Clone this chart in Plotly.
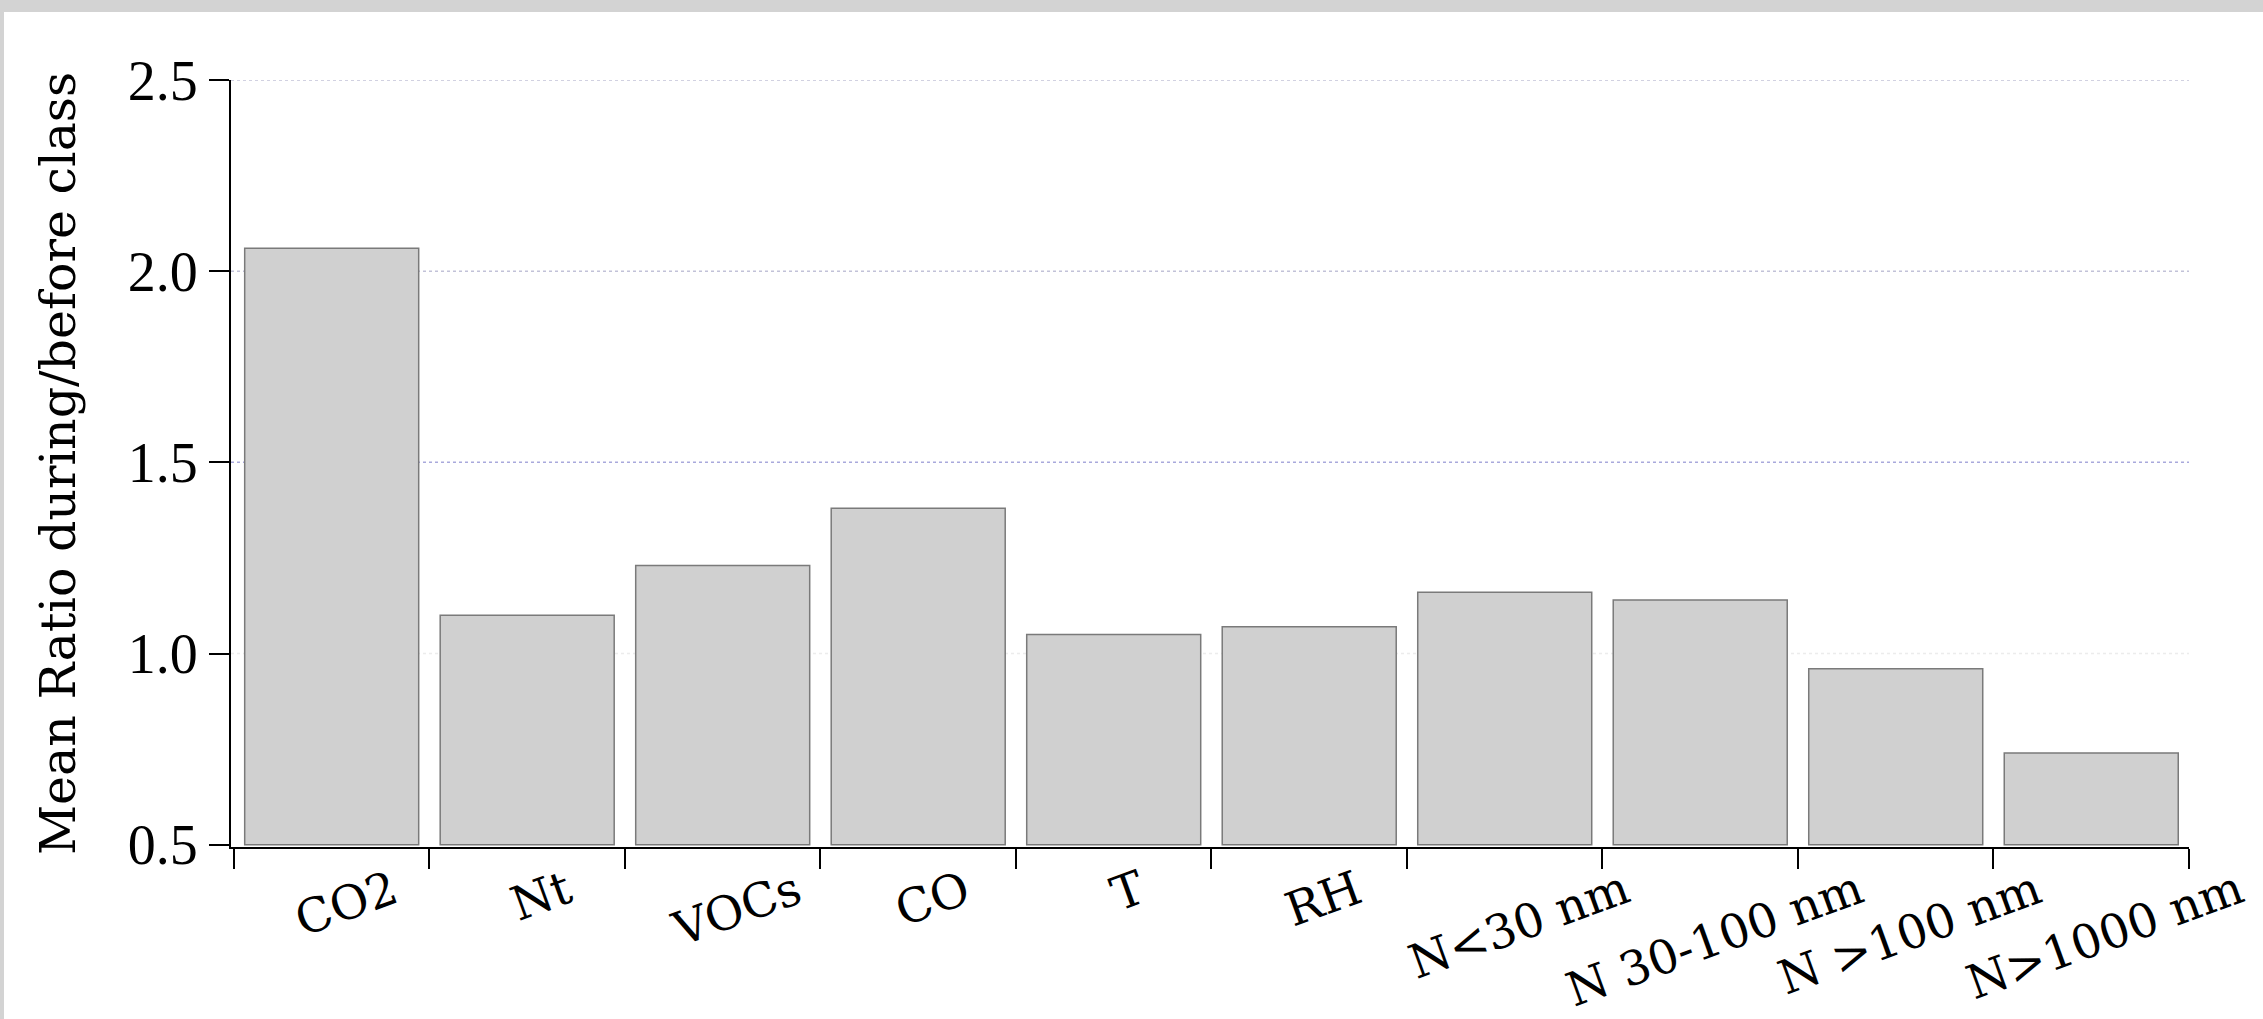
import plotly.graph_objects as go

# ---- data ----
categories = ["CO2", "Nt", "VOCs", "CO", "T", "RH", "N<30 nm", "N 30-100 nm", "N >100 nm", "N>1000 nm"]
mean_ratio = [2.06, 1.10, 1.23, 1.38, 1.05, 1.07, 1.16, 1.14, 0.96, 0.74]
y_tick_vals = [0.5, 1.0, 1.5, 2.0, 2.5]
grid_vals = [1.0, 1.5, 2.0, 2.5]
y_title = "Mean Ratio during/before class"

# ---- styles / layout geometry ----
W, H = 2263, 1019
L, R, T, B = 231, 74, 80, 172
BASE = 0.5
grid_colors = {1.0: "#ececec", 1.5: "#a9a9dc", 2.0: "#c2c2d8", 2.5: "#c2c2d8"}
SERIF = "Liberation Serif, Times New Roman, serif"
SERIF2 = "DejaVu Serif, serif"

plot_h = H - T - B
plot_w = W - L - R

def py_to_paper(py):
    return (H - B - py) / plot_h

def px_to_paper(px):
    return (px - L) / plot_w

fig = go.Figure()
fig.add_trace(go.Bar(
    x=categories,
    y=[v - BASE for v in mean_ratio],
    base=BASE,
    marker=dict(color="#d0d0d0", line=dict(color="#7a7a7a", width=1.5)),
    width=0.89,
    hovertext=[f"{c}: {v}" for c, v in zip(categories, mean_ratio)],
    hoverinfo="text",
))

shapes = []
# page frame (gray top band and left strip)
shapes.append(dict(type="rect", xref="paper", yref="paper",
                   x0=px_to_paper(0), x1=px_to_paper(W), y0=py_to_paper(12), y1=py_to_paper(0),
                   fillcolor="#d3d3d3", line=dict(width=0), layer="below"))
shapes.append(dict(type="rect", xref="paper", yref="paper",
                   x0=px_to_paper(0), x1=px_to_paper(4), y0=py_to_paper(H), y1=py_to_paper(0),
                   fillcolor="#d3d3d3", line=dict(width=0), layer="below"))
for g in grid_vals:
    shapes.append(dict(type="line", xref="paper", yref="y", x0=0, x1=1, y0=g, y1=g,
                       line=dict(color=grid_colors[g], width=1.5, dash="dot"), layer="below"))

annotations = []
for c in categories:
    annotations.append(dict(
        x=c, xref="x", y=py_to_paper(857), yref="paper",
        text=c, showarrow=False, textangle=-20,
        xanchor="center", yanchor="top", xshift=14,
        font=dict(family=SERIF2, size=47, color="black"),
    ))

fig.update_layout(
    width=W, height=H,
    margin=dict(l=L, r=R, t=T, b=B, autoexpand=False),
    paper_bgcolor="white", plot_bgcolor="rgba(0,0,0,0)",
    showlegend=False,
    bargap=0.11,
    shapes=shapes,
    annotations=annotations,
    xaxis=dict(
        type="category", range=[-0.515, len(categories) - 0.5],
        showline=True, linecolor="black", linewidth=2,
        ticks="outside", ticklen=20, tickwidth=2, tickcolor="black",
        tickson="boundaries", showticklabels=False, showgrid=False, zeroline=False,
        fixedrange=True,
    ),
    yaxis=dict(
        range=[0.494, 2.5],
        tickvals=y_tick_vals, ticktext=[f"{v:.1f}" for v in y_tick_vals],
        showline=True, linecolor="black", linewidth=2,
        ticks="outside", ticklen=20, tickwidth=2, tickcolor="black",
        showgrid=False, zeroline=False,
        tickfont=dict(family=SERIF, size=56, color="black"),
        title=dict(text=y_title, font=dict(family=SERIF2, size=49, color="black"), standoff=37),
        fixedrange=True,
    ),
)

fig.write_html(
    "out.html",
    config={"displayModeBar": False},
    post_script="document.body.style.margin='0';document.body.style.padding='0';document.body.style.overflow='hidden';",
)
